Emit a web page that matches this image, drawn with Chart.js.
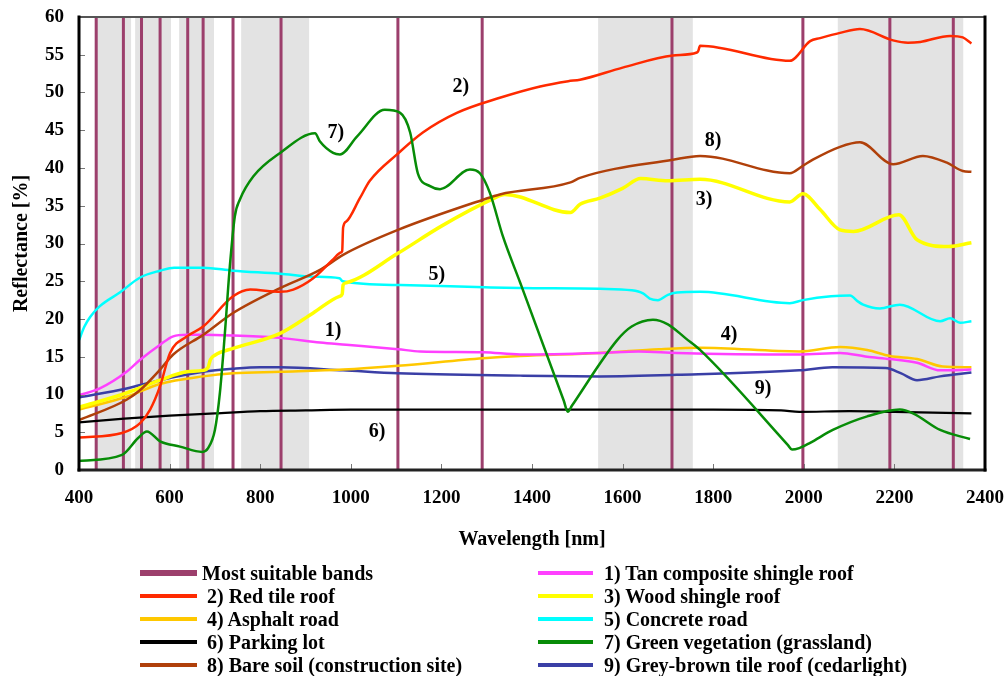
<!DOCTYPE html>
<html>
<head>
<meta charset="utf-8">
<script src="https://cdn.jsdelivr.net/npm/chart.js@4.4.1/dist/chart.umd.min.js"></script>
<style>
html,body{margin:0;padding:0;background:#fff;}
#wrap{position:relative;width:1008px;height:676px;overflow:hidden;}
#chart{position:absolute;left:0;top:0;}
#legend{position:absolute;left:0;top:0;width:1008px;height:676px;pointer-events:none;
  font-family:"Liberation Serif","Times New Roman",serif;font-weight:bold;font-size:20px;color:#000;}
.item{position:absolute;height:24px;}
.swatch{position:absolute;}
.label{position:absolute;top:0;line-height:24px;white-space:nowrap;}
</style>
</head>
<body>
<div id="wrap">
  <canvas id="chart" width="1008" height="676"></canvas>
  <div id="legend"></div>
</div>
<script>
// ---------- tick labels ----------
const xTickLabels = [400, 600, 800, 1000, 1200, 1400, 1600, 1800, 2000, 2200, 2400];
const yTickLabels = [0, 5, 10, 15, 20, 25, 30, 35, 40, 45, 50, 55, 60];

// ---------- most suitable bands (nm) ----------
const suitableBands = [438, 498, 538, 579, 640, 674, 740, 846, 1104, 1290, 1709, 1998, 2190, 2330];
// sensor band coverage ranges (grey shading), nm
const bandRangeStart = [435, 524, 621, 758, 1546, 2075];
const bandRangeEnd   = [515, 603, 698, 908, 1755, 2352];

// ---------- 1) Tan composite shingle roof ----------
const tanNm = [400,446,505,535,579,608,638,674,740,844,932,990,1104,1153,1292,1374,1550,1635,1720,1990,2080,2140,2190,2250,2301,2370];
const tanRefl = [9.9,10.8,13.0,14.6,16.6,17.7,17.9,17.9,17.8,17.5,16.9,16.6,16.0,15.7,15.6,15.3,15.5,15.7,15.5,15.3,15.5,15.0,14.7,14.2,13.2,13.3];

// ---------- 2) Red tile roof ----------
const redNm = [400,495,535,557,579,601,638,674,740,778,844,873,917,961,978,981,983,990,1020,1042,1102,1159,1234,1329,1418,1480,1506,1600,1711,1764,1767,1771,1969,2014,2036,2080,2124,2197,2230,2257,2323,2351,2370];
const redRefl = [4.3,4.9,6.2,8.0,11.1,15.5,17.7,19.0,23.0,23.9,23.6,23.9,25.4,27.9,28.8,29.0,32.1,32.9,36.0,38.3,41.8,44.7,47.3,49.3,50.8,51.5,51.7,53.3,54.9,55.3,55.5,56.2,54.2,56.8,57.2,57.9,58.4,56.9,56.6,56.7,57.5,57.3,56.5];

// ---------- 3) Wood shingle roof ----------
const woodNm = [400,505,579,638,674,685,690,700,740,844,917,975,981,983,990,1104,1200,1310,1340,1485,1506,1550,1600,1640,1700,1771,1969,1998,2036,2080,2110,2210,2250,2320,2370];
const woodRefl = [8.3,10.2,11.9,13.0,13.2,13.6,14.6,15.2,16.1,18.1,20.8,23.0,23.3,24.5,24.8,28.7,32.3,35.8,36.5,34.1,35.2,36.0,37.3,38.6,38.3,38.5,35.5,36.6,34.5,31.8,31.6,33.8,30.5,29.6,30.1];

// ---------- 4) Asphalt road ----------
const asphaltNm = [400,505,579,674,740,844,983,1104,1292,1374,1550,1680,1771,1990,2080,2140,2190,2250,2307,2370];
const asphaltRefl = [8.0,9.7,11.4,12.4,12.8,13.0,13.3,13.8,14.8,15.1,15.5,16.0,16.2,15.7,16.3,15.9,15.1,14.7,13.7,13.6];

// ---------- 5) Concrete road ----------
const concreteNm = [400,412,425,446,490,535,579,610,674,740,844,917,975,982,1109,1296,1374,1550,1620,1645,1660,1678,1700,1720,1771,1969,1998,2060,2102,2120,2131,2168,2212,2301,2323,2345,2370];
const concreteRefl = [17.2,19.0,20.3,21.7,23.5,25.5,26.4,26.8,26.8,26.4,26.0,25.6,25.4,25.0,24.5,24.2,24.1,24.0,23.8,23.4,22.7,22.5,23.2,23.5,23.6,22.1,22.5,23.0,23.1,22.3,21.9,21.4,21.9,19.7,20.1,19.5,19.7];

// ---------- 6) Parking lot ----------
const parkingNm = [400,500,600,700,800,900,1000,1400,1800,1950,1990,2100,2200,2370];
const parkingRefl = [6.3,6.8,7.2,7.5,7.8,7.9,8.0,8.0,8.0,7.9,7.7,7.8,7.7,7.5];

// ---------- 7) Green vegetation (grassland) ----------
const grassNm = [400,495,530,550,579,623,672,685,700,711,722,733,744,755,785,844,921,932,961,976,1014,1075,1109,1131,1148,1175,1197,1263,1285,1307,1336,1374,1470,1479,1488,1588,1620,1667,1700,1740,1771,1965,1974,1990,2014,2064,2140,2212,2241,2301,2367];
const grassRefl = [1.2,2.0,4.2,5.1,3.8,3.1,2.4,2.9,5.3,10.2,18.1,27.0,33.6,35.8,38.9,42.0,44.6,43.5,42.0,41.8,44.2,47.7,47.3,44.7,39.3,37.6,37.2,39.8,39.3,36.7,30.9,24.8,9.2,7.7,8.5,17.2,19.0,19.9,19.3,17.4,15.9,3.3,2.7,2.9,3.6,5.3,7.1,8.0,7.5,5.3,4.1];

// ---------- 8) Bare soil (construction site) ----------
const soilNm = [400,505,535,579,608,674,740,844,932,983,1104,1292,1329,1485,1506,1711,1771,1969,1998,2020,2080,2124,2197,2263,2316,2351,2370];
const soilRefl = [6.6,9.3,10.6,13.3,15.3,17.9,20.8,24.1,26.5,28.5,31.8,35.8,36.5,38.1,38.7,41.1,41.6,39.3,40.3,41.1,42.8,43.4,40.5,41.6,40.7,39.6,39.5];

// ---------- 9) Grey-brown tile roof (cedarlight) ----------
const cedarNm = [400,505,579,674,740,800,844,983,1104,1374,1550,1720,1990,2063,2181,2215,2250,2301,2370];
const cedarRefl = [9.6,10.8,11.9,13.0,13.4,13.6,13.6,13.2,12.8,12.5,12.4,12.6,13.2,13.6,13.5,12.8,11.9,12.4,12.9];

// ---------- in-plot curve labels ----------
const curveTags  = ['2)', '7)', '8)', '3)', '5)', '1)', '4)', '9)', '6)'];
const curveTagNm = [1243, 967, 1800, 1780, 1190, 961, 1835, 1910, 1058];
const curveTagRefl = [50.7, 44.7, 43.6, 35.8, 25.9, 18.4, 17.9, 10.7, 5.0];

// ---------- build ----------
const SERIF = '"Liberation Serif","Times New Roman",serif';
function pts(xs, ys) { return xs.map((x, i) => ({x: x, y: ys[i]})); }
const bandPts = [];
suitableBands.forEach(c => {
  bandPts.push({x: c, y: yTickLabels[0]}, {x: c, y: yTickLabels[yTickLabels.length - 1]}, {x: c, y: null});
});

function series(label, xs, ys, color, order, width) {
  return {
    label: label, data: pts(xs, ys), borderColor: color, backgroundColor: color,
    borderWidth: width || 2.5, pointRadius: 0, fill: false, order: order,
    cubicInterpolationMode: 'monotone', tension: 0
  };
}

const datasets = [
  {label: 'Most suitable bands', data: bandPts, borderColor: '#9c3f6c', backgroundColor: '#9c3f6c',
   borderWidth: 3, pointRadius: 0, fill: false, order: 100, spanGaps: false, tension: 0, borderCapStyle: 'butt'},
  series('1) Tan composite shingle roof', tanNm, tanRefl, '#ff40ff', 6),
  series('2) Red tile roof', redNm, redRefl, '#ff2a00', 2),
  series('3) Wood shingle roof', woodNm, woodRefl, '#ffff00', 4, 3.5),
  series('4) Asphalt road', asphaltNm, asphaltRefl, '#ffc800', 7),
  series('5) Concrete road', concreteNm, concreteRefl, '#00ffff', 5),
  series('6) Parking lot', parkingNm, parkingRefl, '#000000', 9, 2.2),
  series('7) Green vegetation (grassland)', grassNm, grassRefl, '#078c07', 1),
  series('8) Bare soil (construction site)', soilNm, soilRefl, '#b0400a', 3),
  series('9) Grey-brown tile roof (cedarlight)', cedarNm, cedarRefl, '#3a3fa6', 8)
];

const decorPlugin = {
  id: 'decor',
  beforeDatasetsDraw(chart) {
    const {ctx, chartArea: a, scales: {x}} = chart;
    ctx.save();
    ctx.fillStyle = '#e3e3e3';
    bandRangeStart.forEach((s, i) => {
      const x0 = x.getPixelForValue(s), x1 = x.getPixelForValue(bandRangeEnd[i]);
      ctx.fillRect(x0, a.top, x1 - x0, a.bottom - a.top);
    });
    ctx.restore();
  },
  afterDatasetsDraw(chart) {
    const {ctx, scales: {x, y}} = chart;
    ctx.save();
    ctx.font = 'bold 20px ' + SERIF;
    ctx.fillStyle = '#000';
    ctx.textAlign = 'center';
    ctx.textBaseline = 'middle';
    curveTags.forEach((t, i) => {
      ctx.fillText(t, x.getPixelForValue(curveTagNm[i]), y.getPixelForValue(curveTagRefl[i]));
    });
    ctx.restore();
  },
  afterDraw(chart) {
    const {ctx, chartArea: a, scales: {x, y}} = chart;
    ctx.save();
    ctx.strokeStyle = '#777';
    ctx.lineWidth = 1;
    y.ticks.forEach(t => {
      const py = Math.round(y.getPixelForValue(t.value)) + 0.5;
      ctx.beginPath(); ctx.moveTo(a.left, py); ctx.lineTo(a.left + 6, py); ctx.stroke();
    });
    x.ticks.forEach(t => {
      const px = Math.round(x.getPixelForValue(t.value)) + 0.5;
      ctx.beginPath(); ctx.moveTo(px, a.bottom); ctx.lineTo(px, a.bottom - 6); ctx.stroke();
    });
    ctx.lineCap = 'square';
    ctx.strokeStyle = '#555'; ctx.lineWidth = 2;
    ctx.beginPath(); ctx.moveTo(a.left, a.top); ctx.lineTo(a.right, a.top); ctx.stroke();
    ctx.strokeStyle = '#222'; ctx.lineWidth = 3;
    ctx.beginPath(); ctx.moveTo(a.left, a.bottom); ctx.lineTo(a.right, a.bottom); ctx.stroke();
    ctx.strokeStyle = '#000'; ctx.lineWidth = 3;
    ctx.beginPath(); ctx.moveTo(a.left, a.top); ctx.lineTo(a.left, a.bottom); ctx.stroke();
    ctx.beginPath(); ctx.moveTo(a.right, a.top); ctx.lineTo(a.right, a.bottom); ctx.stroke();
    ctx.restore();
  }
};

const chart = new Chart(document.getElementById('chart'), {
  type: 'line',
  data: {datasets: datasets},
  options: {
    responsive: false,
    animation: false,
    events: [],
    layout: {padding: {top: 17, right: 23, left: 0, bottom: 0}},
    plugins: {legend: {display: false}, tooltip: {enabled: false}},
    scales: {
      x: {
        type: 'linear', min: xTickLabels[0], max: xTickLabels[xTickLabels.length - 1],
        grid: {display: false, drawTicks: false}, border: {display: false},
        afterBuildTicks: s => { s.ticks = xTickLabels.map(v => ({value: v})); },
        afterFit: s => { s.height = 206; s.paddingLeft = 0; s.paddingRight = 0; },
        ticks: {autoSkip: false, maxRotation: 0, padding: 17, color: '#000',
                callback: v => String(v),
                font: {family: SERIF, size: 19, weight: 'bold'}},
        title: {display: true, text: 'Wavelength [nm]', color: '#000',
                font: {family: SERIF, size: 20, weight: 'bold'}, padding: {top: 0, bottom: 124}}
      },
      y: {
        type: 'linear', min: yTickLabels[0], max: yTickLabels[yTickLabels.length - 1],
        grid: {display: false, drawTicks: false}, border: {display: false},
        afterBuildTicks: s => { s.ticks = yTickLabels.map(v => ({value: v})); },
        afterFit: s => { s.width = 79; s.paddingTop = 0; s.paddingBottom = 0; },
        ticks: {padding: 15, color: '#000', callback: v => String(v),
                font: {family: SERIF, size: 19, weight: 'bold'}},
        title: {display: true, text: 'Reflectance [%]', color: '#000',
                font: {family: SERIF, size: 20, weight: 'bold'}, padding: {top: 10, bottom: 0}}
      }
    }
  },
  plugins: [decorPlugin]
});

// ---------- HTML legend (two columns) ----------
const legendEl = document.getElementById('legend');
const cols = [
  {sampleLeft: 140, sampleWidth: 57, textLeft: 207},
  {sampleLeft: 538, sampleWidth: 55, textLeft: 604}
];
chart.data.datasets.forEach((ds, i) => {
  const col = cols[i % 2];
  const row = Math.floor(i / 2);
  const cy = 573 + row * 23;
  const item = document.createElement('div');
  item.className = 'item';
  item.style.left = '0px';
  item.style.top = (cy - 12) + 'px';
  const sw = document.createElement('span');
  sw.className = 'swatch';
  const h = i === 0 ? 6 : 4;
  sw.style.left = col.sampleLeft + 'px';
  sw.style.width = col.sampleWidth + 'px';
  sw.style.top = (12 - h / 2) + 'px';
  sw.style.height = h + 'px';
  sw.style.background = ds.borderColor;
  const lb = document.createElement('span');
  lb.className = 'label';
  lb.style.left = (i === 0 ? col.textLeft - 5 : col.textLeft) + 'px';
  lb.textContent = ds.label;
  item.appendChild(sw);
  item.appendChild(lb);
  legendEl.appendChild(item);
});
</script>
</body>
</html>
